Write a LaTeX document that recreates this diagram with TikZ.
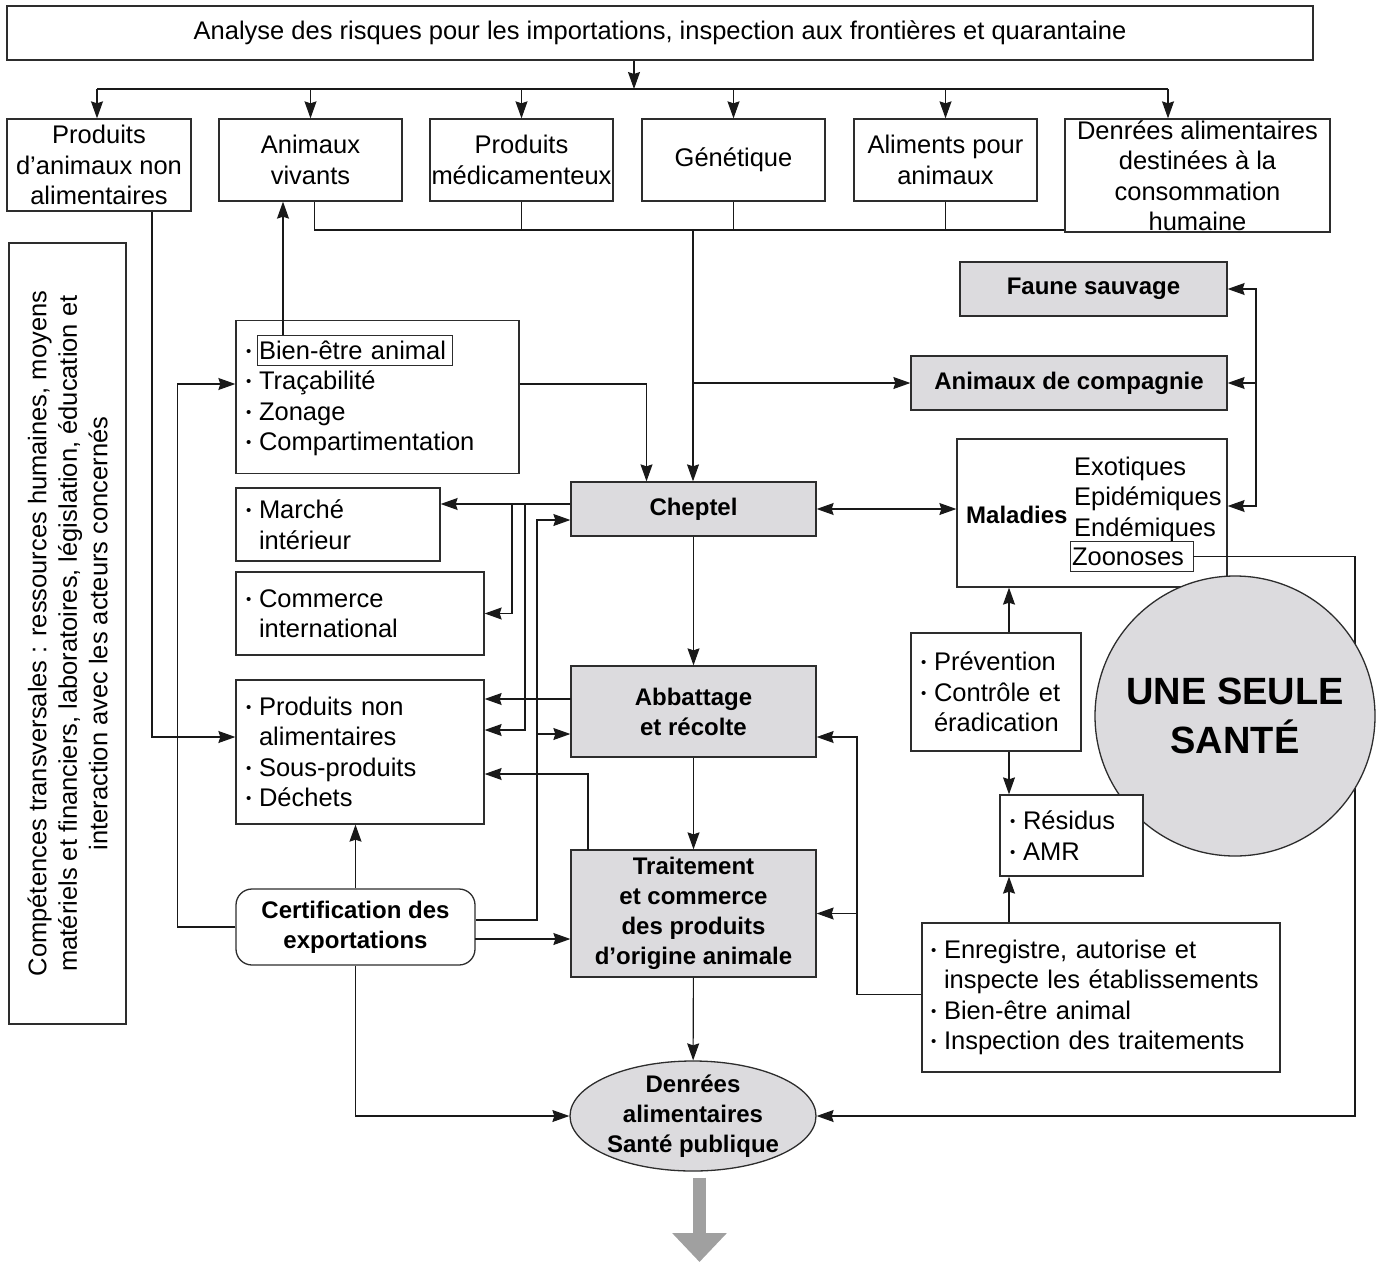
\documentclass[tikz,border=0pt]{standalone}
\usepackage{fontspec}
\setmainfont{Liberation Sans}
\usepackage{xcolor}
\usepackage{tikz}
\usetikzlibrary{arrows.meta,shapes.geometric}
\newcommand{\puce}{\makebox[13pt][l]{\raisebox{3pt}{\fontsize{15}{15}\selectfont •}}}
\newcommand{\retrait}{\hspace*{13pt}}

\begin{document}
\begin{tikzpicture}[x=1pt, y=-1pt,
	every node/.style={font=\fontsize{25.5}{30.5}\selectfont, text=black},
	boite/.style={draw=trait, line width=1.3pt, fill=white, inner sep=0pt, align=center},
	boitegris/.style={boite, fill=boxgris, font=\fontsize{24}{30}\selectfont\bfseries},
	liste/.style={boite, align=left, inner xsep=10pt},
	cadre/.style={draw=trait, line width=0.8pt, inner xsep=2pt, inner ysep=0pt, minimum height=30pt, align=left},
	fl/.style={draw=lien, line width=1.1pt, -{Stealth[length=17pt,width=12pt,inset=2pt]}},
	fl2/.style={fl, {Stealth[length=17pt,width=12pt,inset=2pt]}-{Stealth[length=17pt,width=12pt,inset=2pt]}},
	ligne/.style={draw=lien, line width=1.1pt},
	grossefleche/.style={draw=flechegris, line width=13pt, -{Triangle[length=29pt,width=53pt]}}]
				% 颜色
				\definecolor{trait}{RGB}{45,45,45}
				\definecolor{lien}{RGB}{25,25,25}
				\definecolor{boxgris}{RGB}{220,219,222}
				\definecolor{flechegris}{RGB}{160,160,160}
				\useasboundingbox (0,0) rectangle (1381,1263);
				
				% 顶部框
				\node[boite, line width=1.8pt, minimum width=1306pt, minimum height=54pt] (top) at (660,33) {Analyse des risques pour les importations, inspection aux frontières et quarantaine};
				
				% 第一行
				\node[boite, minimum width=184pt, minimum height=92pt] (pa) at (99,165) {Produits\\d’animaux non\\alimentaires};
				\node[boite, minimum width=183pt, minimum height=82pt] (av) at (310.5,160) {Animaux\\vivants};
				\node[boite, minimum width=183pt, minimum height=82pt] (pm) at (521.5,160) {Produits\\médicamenteux};
				\node[boite, minimum width=183pt, minimum height=82pt] (gen) at (733.5,160) {Génétique};
				\node[boite, minimum width=183pt, minimum height=82pt] (ali) at (945.5,160) {Aliments pour\\animaux};
				\node[boite, minimum width=265pt, minimum height=113pt] (den) at (1197.5,175.5) {Denrées alimentaires\\destinées à la\\consommation\\humaine};
				
				% 左侧竖排文字
				\node[boite, rotate=90, minimum width=781pt, minimum height=117pt] (transv) at (67.5,633.5) {Compétences transversales : ressources humaines, moyens\\matériels et financiers, laboratoires, législation, éducation et\\interaction avec les acteurs concernés};
				
				% 左列
				\node[liste, text width=263pt, minimum width=283pt, minimum height=153pt] (be) at (377.5,397) {\puce\strut\\\puce Traçabilité\\\puce Zonage\\\puce Compartimentation};
				\node[cadre, text width=191pt] (bea) at (354.5,350.5) {Bien-être animal};
				\node[liste, text width=184pt, minimum width=204pt, minimum height=73pt] (mi) at (338,524.5) {\puce Marché\\\retrait intérieur};
				\node[liste, text width=228pt, minimum width=248pt, minimum height=83pt] (ci) at (360,613.5) {\puce Commerce\\\retrait international};
				\node[liste, text width=228pt, minimum width=248pt, minimum height=144pt] (pna) at (360,752) {\puce Produits non\\\retrait alimentaires\\\puce Sous-produits\\\puce Déchets};
				\node[boite, rounded corners=16pt, minimum width=239pt, minimum height=76pt, font=\fontsize{24}{30}\selectfont\bfseries] (cert) at (355.5,927) {Certification des\\exportations};
				
				% 中列
				\node[boitegris, minimum width=245pt, minimum height=54pt] (chep) at (693.5,509) {Cheptel};
				\node[boitegris, minimum width=245pt, minimum height=91pt] (abb) at (693.5,711.5) {Abbattage\\et récolte};
				\node[boitegris, minimum width=245pt, minimum height=127pt] (tra) at (693.5,913.5) {Traitement\\et commerce\\des produits\\d’origine animale};
				\node[ellipse, draw=trait, line width=1.3pt, fill=boxgris, minimum width=246pt, minimum height=110pt, inner xsep=0pt, inner ysep=-12pt, align=center, font=\fontsize{24}{30}\selectfont\bfseries] (dsp) at (693,1116) {Denrées\\alimentaires\\Santé publique};
				
				% 右列
				\node[boitegris, minimum width=267pt, minimum height=54pt] (faune) at (1093.5,289) {Faune sauvage};
				\node[boitegris, minimum width=316pt, minimum height=54pt] (comp) at (1069,383) {Animaux de compagnie};
				\node[boite, minimum width=270pt, minimum height=148pt] (mal) at (1092,513) {};
				\node[anchor=west, inner sep=0pt, font=\fontsize{24}{30}\selectfont\bfseries] (malt) at (966,515) {Maladies};
				\node[anchor=west, inner sep=0pt, align=left] (mall) at (1074,499) {Exotiques\\Epidémiques\\Endémiques};
				\node[cadre, text width=119pt] (zoo) at (1131.5,556.5) {Zoonoses};
				\node[liste, text width=150pt, minimum width=170pt, minimum height=118pt] (prev) at (996,692) {\puce Prévention\\\puce Contrôle et\\\retrait éradication};
				\node[liste, inner xsep=9pt, text width=340pt, minimum width=358pt, minimum height=149pt] (enr) at (1101,997.5) {\puce Enregistre, autorise et\\\retrait inspecte les établissements\\\puce Bien-être animal\\\puce Inspection des traitements};
				
				% 顶部汇总线
				\coordinate (busg) at (97,89);
				\coordinate (busd) at (1168,89);
				\coordinate (busm) at (634,89);
				\draw[fl] (top.south -| busm) -- (busm);
				\draw[ligne] (busg) -- (busd);
				\draw[fl] (busg) -- (busg |- pa.north);
				\foreach \n in {av,pm,gen,ali}
				\draw[fl] (\n.north |- busg) -- (\n.north);
				\draw[fl] (busd) -- (busd |- den.north);
				
				% 第二条汇总线
				\coordinate (busb) at (693,230);
				\draw[ligne] ([xshift=4pt]av.south) |- (busb -| den.west);
				\foreach \n in {pm,gen,ali}
				\draw[ligne] (\n.south) -- (\n.south |- busb);
				\draw[fl] (busb) -- (busb |- chep.north);
				\draw[fl] (busb |- comp.west) -- (comp.west);
				
				% 左侧连线
				\coordinate (bav) at (283,335);
				\draw[fl] (bav) -- (bav |- av.south);
				\draw[fl] ([xshift=53pt]pa.south) |- ([yshift=15pt]pna.west);
				\draw[fl] (cert.west) -- ++(-58,0) |- ([yshift=13pt]be.west);
				\draw[fl] ([yshift=13pt]be.east) -| ([xshift=-47pt]chep.north);
				
				\coordinate (j1) at (512,504);
				\coordinate (j2) at (525,504);
				\coordinate (j3) at (537,734);
				\coordinate (j4) at (571,699);
				\coordinate (j5) at (588,850);
				\coordinate (j6) at (475,939);
				\draw[fl] ([yshift=5pt]chep.west) -- (j1 -| mi.east);
				\draw[fl] (j1) |- (ci.east);
				\draw[fl] (j2) |- ([yshift=22pt]pna.east);
				\draw[fl] ([yshift=7pt]cert.east) -| (j3) |- ([yshift=-11pt]chep.west);
				\draw[fl] (j3) -- (j3 -| abb.west);
				\draw[fl] (j4) -- (j4 -| pna.east);
				\draw[fl] (j5) |- ([yshift=-22pt]pna.east);
				\draw[fl] (cert.north) -- (cert.north |- pna.south);
				\draw[fl] (j6) -- (j6 -| tra.west);
				\draw[fl] (cert.south) |- (dsp.west);
				
				% 中列连线
				\draw[fl] (chep) -- (abb);
				\draw[fl] (abb) -- (tra);
				\draw[fl] (tra) -- (dsp);
				\coordinate (sortie) at (699.5,1262);
				\draw[grossefleche] ([xshift=6.5pt,yshift=-6pt]dsp.south) -- (sortie);
				
				% 右侧连线
				\draw[fl2] (chep.east) -- (chep.east -| mal.west);
				\coordinate (bd) at (1256,383);
				\draw[fl2] (faune.east) -| (bd) |- ([yshift=7pt]mal.east);
				\draw[fl] (bd) -- (comp.east);
				\coordinate (ve) at (857,737);
				\draw[fl] ([yshift=3pt]enr.west) -| (ve) -- (ve -| abb.east);
				\draw[fl] (ve |- tra.east) -- (tra.east);
				\coordinate (vz) at (1355,0);
				\draw[fl] (zoo.east) -| (vz |- dsp.east) -- (dsp.east);
				
				% 圆
				\node[circle, draw=trait, line width=1.3pt, fill=boxgris, minimum size=280pt, inner sep=0pt, align=center, font=\fontsize{38}{49}\selectfont\bfseries] (une) at (1235,716) {UNE SEULE\\SANTÉ};
				
				\node[liste, text width=123pt, minimum width=143pt, minimum height=81pt] (res) at (1071.5,835.5) {\puce Résidus\\\puce AMR};
				\coordinate (vx) at (1009,0);
				\draw[fl] (vx |- prev.north) -- (vx |- mal.south);
				\draw[fl] (vx |- prev.south) -- (vx |- res.north);
				\draw[fl] (vx |- enr.north) -- (vx |- res.south);
				
			\end{tikzpicture}
\end{document}
